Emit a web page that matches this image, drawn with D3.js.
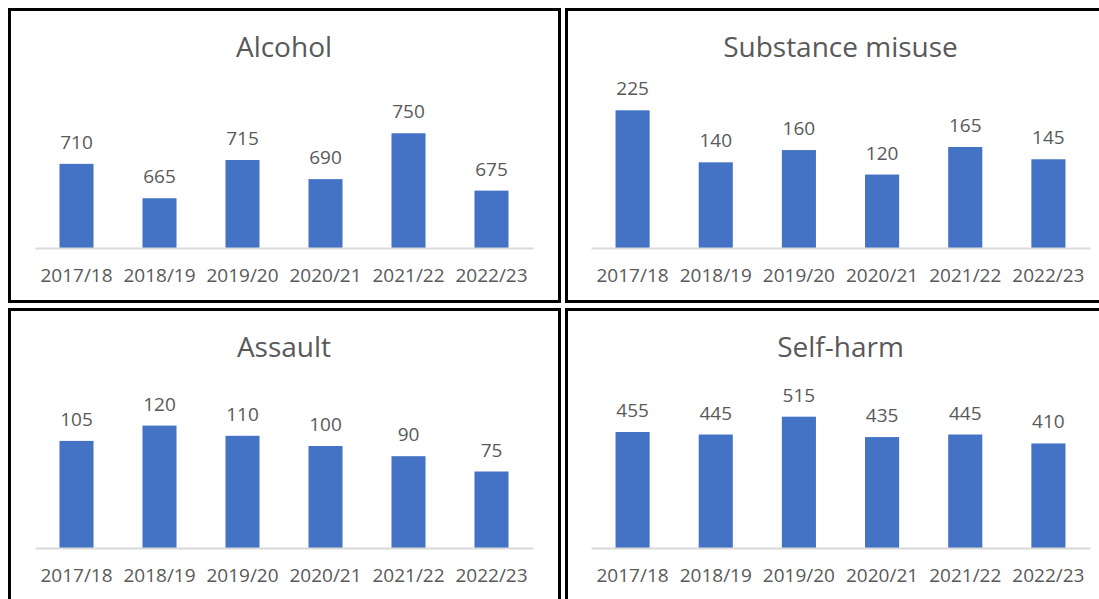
<!DOCTYPE html>
<html>
<head>
<meta charset="utf-8">
<script src="https://cdn.jsdelivr.net/npm/d3@7"></script>
<style>
  body { margin: 0; background: #fff; }
  svg { display: block; font-family: "Open Sans", "Noto Sans", sans-serif; }
</style>
</head>
<body>
<svg id="chart" width="1099" height="599"></svg>
<script>
"use strict";

// === Data ===
const years = ["2017/18", "2018/19", "2019/20", "2020/21", "2021/22", "2022/23"];
const alcohol = [710, 665, 715, 690, 750, 675];
const substance = [225, 140, 160, 120, 165, 145];
const assault = [105, 120, 110, 100, 90, 75];
const selfHarm = [455, 445, 515, 435, 445, 410];

const svg = d3.select("#chart");

// one small bar chart inside a framed box
function panel(px, py, pw, ph, title, values, yMin, yMax, axisX0, axisX1) {
  const g = svg.append("g").attr("transform", `translate(${px},${py})`);

  g.append("rect")
    .attr("x", 1.5).attr("y", 1.5)
    .attr("width", pw - 3).attr("height", ph - 3)
    .attr("fill", "#fff")
    .attr("stroke", "#000")
    .attr("stroke-width", 3);

  g.append("text")
    .attr("x", (axisX0 + axisX1) / 2)
    .attr("y", 49)
    .attr("text-anchor", "middle")
    .attr("font-size", 28)
    .attr("fill", "#595959")
    .text(title);

  const baseY = 240;
  const x = d3.scaleBand().domain(years).range([axisX0, axisX1]).paddingInner(0.59).paddingOuter(0.295);
  const y = d3.scaleLinear().domain([yMin, yMax]).range([baseY, baseY - 153]);

  g.selectAll("rect.bar").data(values).join("rect")
    .attr("class", "bar")
    .attr("x", (d, i) => x(years[i]))
    .attr("y", d => y(d))
    .attr("width", x.bandwidth())
    .attr("height", d => baseY - y(d))
    .attr("fill", "#4472c4");

  g.selectAll("text.lbl").data(values).join("text")
    .attr("class", "lbl")
    .attr("x", (d, i) => x(years[i]) + x.bandwidth() / 2)
    .attr("y", d => y(d) - 15)
    .attr("text-anchor", "middle")
    .attr("font-size", 19)
    .attr("fill", "#595959")
    .text(d => d);

  const axis = g.append("g")
    .attr("transform", `translate(0,${baseY})`)
    .call(d3.axisBottom(x).tickSize(0).tickPadding(21));
  axis.select(".domain").attr("stroke", "#d9d9d9").attr("stroke-width", 2);
  axis.selectAll("text")
    .attr("font-size", 19)
    .attr("font-family", "\"Open Sans\", sans-serif")
    .attr("fill", "#595959");
}

panel(8, 8, 553, 295, "Alcohol", alcohol, 600, 800, 27, 525);
panel(565, 8, 540, 295, "Substance misuse", substance, 0, 250, 26, 525);
panel(8, 308, 553, 295, "Assault", assault, 0, 150, 27, 525);
panel(565, 308, 540, 295, "Self-harm", selfHarm, 0, 600, 26, 525);
</script>
</body>
</html>
